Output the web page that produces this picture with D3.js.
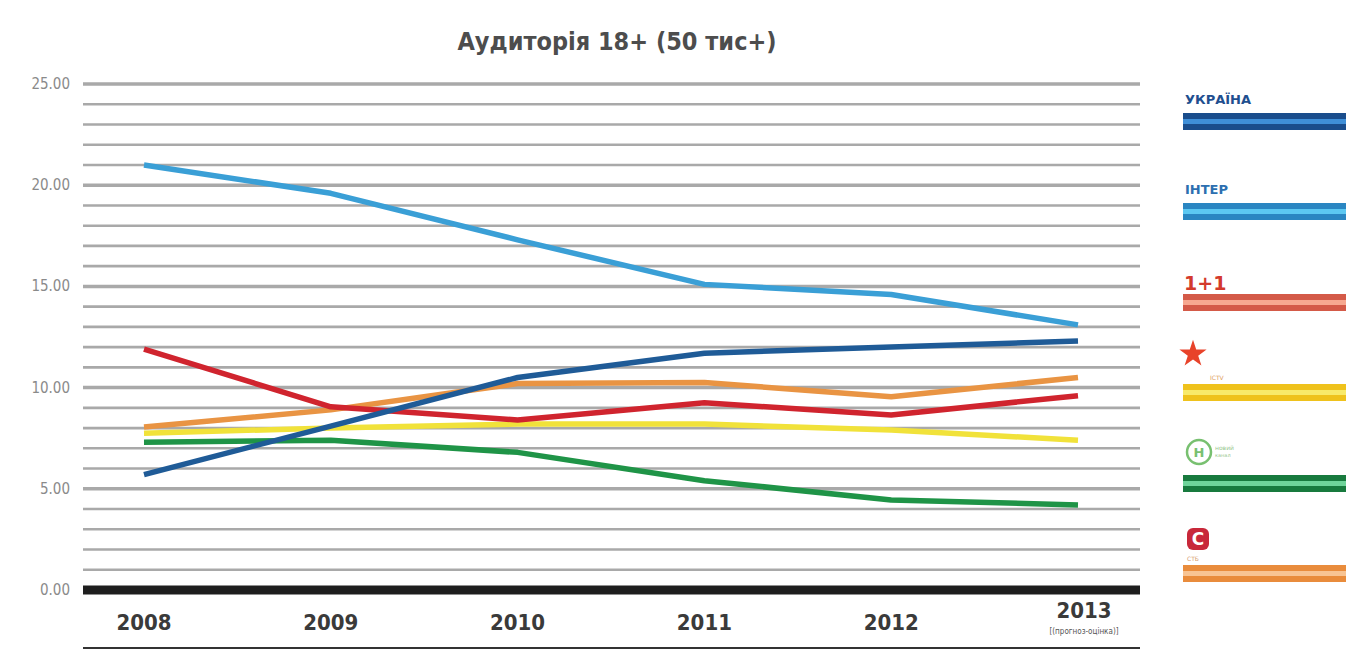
<!DOCTYPE html>
<html>
<head>
<meta charset="utf-8">
<script src="https://cdn.jsdelivr.net/npm/d3@7"></script>
<style>
  body { margin: 0; background: #fff; }
  svg { display: block; }
</style>
</head>
<body>
<svg id="chart" width="1346" height="650"></svg>
<script>
"use strict"

const years = ["2008", "2009", "2010", "2011", "2012", "2013"]
const yTicks = [0, 5, 10, 15, 20, 25]

const ukraina = [5.7, 8.1, 10.5, 11.7, 12.0, 12.3]
const inter   = [21.0, 19.6, 17.3, 15.1, 14.6, 13.1]
const oneplus = [11.9, 9.05, 8.4, 9.25, 8.65, 9.6]
const stb     = [8.05, 8.9, 10.2, 10.25, 9.55, 10.5]
const ictv    = [7.75, 8.0, 8.2, 8.2, 7.9, 7.4]
const novyi   = [7.3, 7.4, 6.8, 5.4, 4.45, 4.2]

const series = [
    {name: "ictv",    values: ictv,    color: "#f1e23a"},
    {name: "stb",     values: stb,     color: "#e99443"},
    {name: "novyi",   values: novyi,   color: "#1f9447"},
    {name: "oneplus", values: oneplus, color: "#d0242e"},
    {name: "ukraina", values: ukraina, color: "#1f5b97"},
    {name: "inter",   values: inter,   color: "#3a9fd6"}
]

const margin = {left: 83, right: 1140, top: 84, bottom: 590}
const svg = d3.select("#chart")

const x = d3.scalePoint().domain(years).range([144, 1078])
const y = d3.scaleLinear().domain([0, 25]).range([margin.bottom, margin.top])

// title
svg.append("text")
    .attr("x", 617).attr("y", 50)
    .attr("text-anchor", "middle")
    .style("font-family", "'DejaVu Sans Condensed', 'DejaVu Sans', sans-serif")
    .style("font-weight", "bold")
    .style("font-size", "25px")
    .style("fill", "#4d4d4d")
    .text("Аудиторія 18+ (50 тис+)")

// grid lines every 1 unit
const grid = d3.range(1, 26)
svg.append("g").selectAll("line")
    .data(grid)
    .enter().append("line")
    .attr("x1", margin.left).attr("x2", margin.right)
    .attr("y1", d => y(d)).attr("y2", d => y(d))
    .style("stroke", "#a9a9a9")
    .style("stroke-width", d => d % 5 === 0 ? 3.5 : 2.6)

// zero line
svg.append("line")
    .attr("x1", margin.left).attr("x2", margin.right)
    .attr("y1", y(0)).attr("y2", y(0))
    .style("stroke", "#1e1e1e")
    .style("stroke-width", 9)

// bottom rule
svg.append("line")
    .attr("x1", margin.left).attr("x2", margin.right)
    .attr("y1", 648).attr("y2", 648)
    .style("stroke", "#333")
    .style("stroke-width", 2)

// y labels
svg.append("g").selectAll("text")
    .data(yTicks)
    .enter().append("text")
    .attr("x", 70).attr("y", d => y(d) + 5)
    .attr("text-anchor", "end")
    .style("font-family", "'DejaVu Sans Condensed', 'DejaVu Sans', sans-serif")
    .style("font-size", "15px")
    .style("fill", "#8a8a8a")
    .text(d => d3.format(".2f")(d))

// x labels
svg.append("g").selectAll("text")
    .data(years)
    .enter().append("text")
    .attr("x", d => x(d) + (d === "2013" ? 6 : 0))
    .attr("y", d => d === "2013" ? 618 : 630)
    .attr("text-anchor", "middle")
    .style("font-family", "'DejaVu Sans Condensed', 'DejaVu Sans', sans-serif")
    .style("font-weight", "bold")
    .style("font-size", "22px")
    .style("fill", "#3a3a3a")
    .text(d => d)

svg.append("text")
    .attr("x", x("2013") + 6).attr("y", 634)
    .attr("text-anchor", "middle")
    .style("font-family", "'DejaVu Sans Condensed', sans-serif")
    .style("font-size", "8px")
    .style("fill", "#555")
    .text("[(прогноз-оцінка)]")

// lines
const line = d3.line()
    .x((d, i) => x(years[i]))
    .y(d => y(d))

svg.append("g").selectAll("path")
    .data(series)
    .enter().append("path")
    .attr("d", d => line(d.values))
    .style("fill", "none")
    .style("stroke", d => d.color)
    .style("stroke-width", 5.5)
    .style("stroke-linejoin", "round")
    .style("stroke-linecap", "butt")

// legend
const legend = [
    {name: "ukraina", y: 113, outer: "#1a4d8c", inner: "#3f8fd8"},
    {name: "inter",   y: 203, outer: "#2a86c2", inner: "#5cc8f2"},
    {name: "oneplus", y: 294, outer: "#d45a48", inner: "#f7a890"},
    {name: "ictv",    y: 384, outer: "#efc21c", inner: "#f8ea6a"},
    {name: "novyi",   y: 475, outer: "#187a3e", inner: "#6fd49a"},
    {name: "stb",     y: 565, outer: "#e98c3c", inner: "#f8c493"}
]

const lg = svg.append("g").selectAll("g")
    .data(legend)
    .enter().append("g")
    .attr("transform", d => "translate(1183," + d.y + ")")

lg.append("rect")
    .attr("width", 163).attr("height", 17)
    .style("fill", d => d.outer)
lg.append("rect")
    .attr("y", 6).attr("width", 163).attr("height", 5)
    .style("fill", d => d.inner)

const lf = "'DejaVu Sans', sans-serif"
svg.append("text").attr("x", 1185).attr("y", 104)
    .style("font-family", lf).style("font-weight", "bold").style("font-size", "13px")
    .style("fill", "#1f4f8f").text("УКРАЇНА")
svg.append("text").attr("x", 1185).attr("y", 194)
    .style("font-family", lf).style("font-weight", "bold").style("font-size", "13px")
    .style("fill", "#2d6fb0").text("ІНТЕР")
svg.append("text").attr("x", 1184).attr("y", 290)
    .style("font-family", lf).style("font-weight", "bold").style("font-size", "19px")
    .style("fill", "#d33a2c").text("1+1")

// ICTV star
const star = d3.symbol().type(d3.symbolStar).size(230)
svg.append("path")
    .attr("d", star())
    .attr("transform", "translate(1193,354)")
    .style("fill", "#e8432a")
svg.append("text").attr("x", 1210).attr("y", 380)
    .style("font-family", lf).style("font-size", "6px")
    .style("fill", "#e0a060").text("ICTV")

// Novyi kanal logo
svg.append("circle")
    .attr("cx", 1199).attr("cy", 452).attr("r", 12)
    .style("fill", "#fff").style("stroke", "#78c070").style("stroke-width", 2.5)
svg.append("text").attr("x", 1199).attr("y", 457)
    .attr("text-anchor", "middle")
    .style("font-family", lf).style("font-weight", "bold").style("font-size", "13px")
    .style("fill", "#78c070").text("Н")
svg.append("text").attr("x", 1215).attr("y", 450)
    .style("font-family", lf).style("font-size", "6px")
    .style("fill", "#9ac890").text("новий")
svg.append("text").attr("x", 1215).attr("y", 457)
    .style("font-family", lf).style("font-size", "5px")
    .style("fill", "#9ac890").text("канал")

// STB logo
svg.append("rect")
    .attr("x", 1187).attr("y", 528).attr("width", 22).attr("height", 22).attr("rx", 6)
    .style("fill", "#c8283a")
svg.append("text").attr("x", 1198).attr("y", 545)
    .attr("text-anchor", "middle")
    .style("font-family", lf).style("font-weight", "bold").style("font-size", "17px")
    .style("fill", "#fff").text("С")
svg.append("text").attr("x", 1187).attr("y", 561)
    .style("font-family", lf).style("font-size", "6px")
    .style("fill", "#d8a070").text("СТБ")
</script>
</body>
</html>
